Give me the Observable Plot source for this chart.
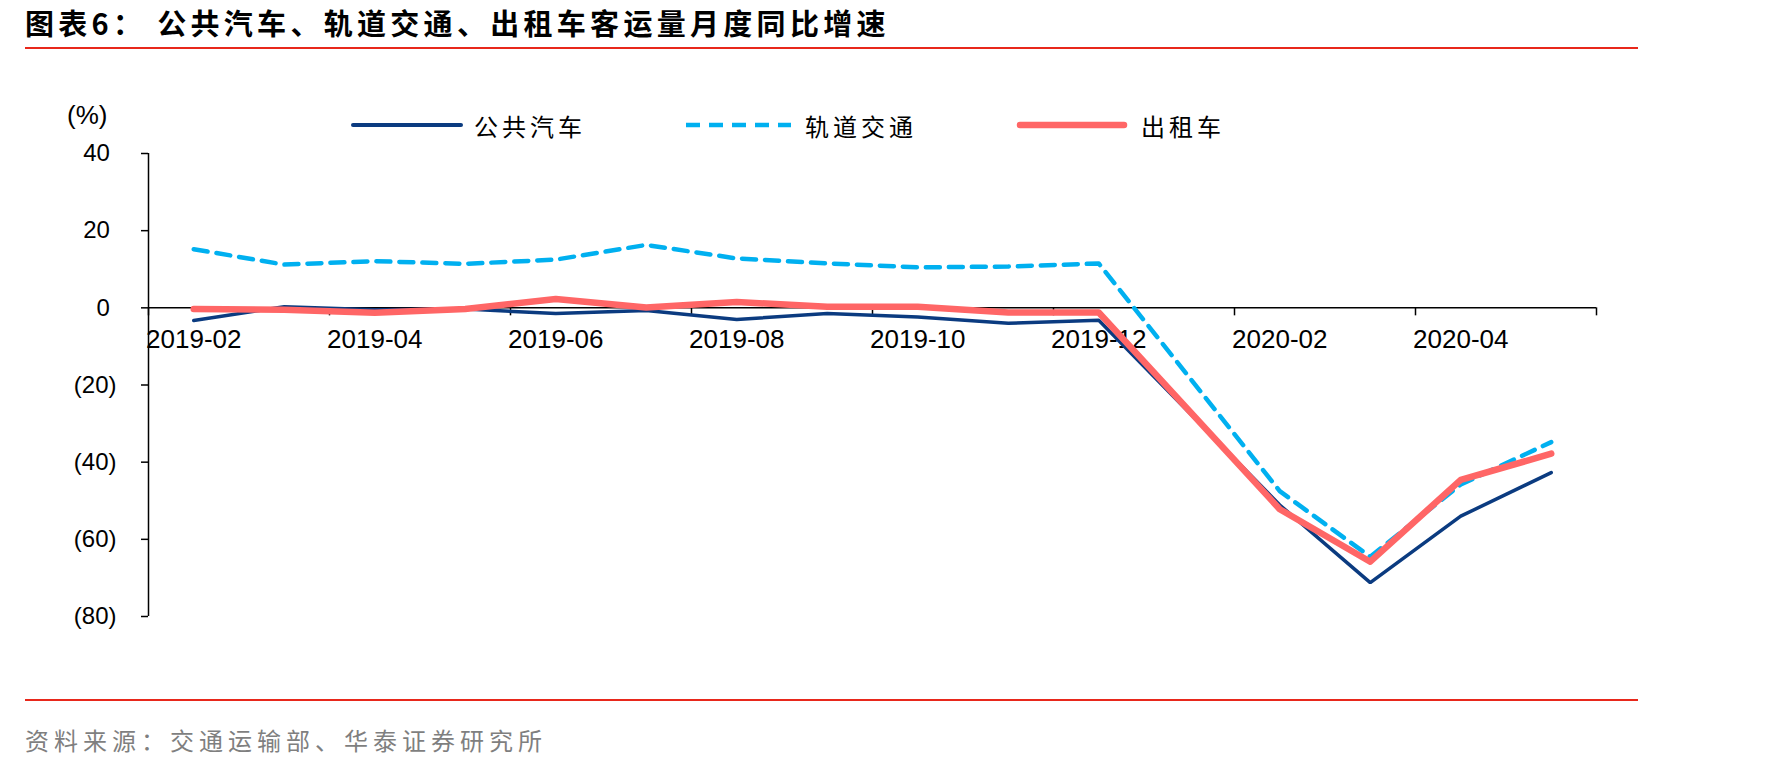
<!DOCTYPE html>
<html>
<head>
<meta charset="utf-8">
<script src="https://cdn.jsdelivr.net/npm/d3@7"></script>
<script src="https://cdn.jsdelivr.net/npm/@observablehq/plot@0.6"></script>
<style>
  html, body { margin: 0; padding: 0; background: #fff; }
  #page { position: relative; width: 1771px; height: 768px; overflow: hidden; background: #fff; font-family: "Noto Sans CJK SC", sans-serif; }
  .abs { position: absolute; white-space: pre; }
  #title { left: 25px; top: 6px; font-size: 29px; line-height: 32px; font-weight: 700; letter-spacing: 4.3px; color: #000; }
  .rule { position: absolute; left: 25px; width: 1613px; height: 2px; background: #E8281B; }
  #source { left: 25px; top: 724px; font-size: 24px; line-height: 32px; letter-spacing: 5px; color: #7F7F7F; }
  #unit { left: 67px; top: 100px; font-family: "Liberation Sans", Arial, sans-serif; font-size: 26px; line-height: 30px; color: #000; }
  .lg-text { font-size: 24px; line-height: 30px; letter-spacing: 4px; color: #000; top: 111px; }
  .lg-sw { position: absolute; top: 115px; }
  #chart { position: absolute; left: 0; top: 132px; }
</style>
</head>
<body>
<div id="page">
  <div id="title" class="abs"></div>
  <div class="rule" style="top:47px"></div>
  <div id="unit" class="abs">(%)</div>
  <div id="legend"></div>
  <div id="chart"></div>
  <div class="rule" style="top:699px"></div>
  <div id="source" class="abs"></div>
</div>
<script>
// ---- data ----
const titleText = "图表6： 公共汽车、轨道交通、出租车客运量月度同比增速";
const sourceText = "资料来源：交通运输部、华泰证券研究所";
const months = ["2019-02","2019-03","2019-04","2019-05","2019-06","2019-07","2019-08","2019-09",
                "2019-10","2019-11","2019-12","2020-01","2020-02","2020-03","2020-04","2020-05"];
const seriesNames = ["公共汽车", "轨道交通", "出租车"];
const busValues  = [-3.3, 0.3, -0.5, -0.3, -1.5, -0.7, -3.0, -1.5, -2.4, -4.0, -3.2, null, -51.1, -71.2, -54.0, -42.7];
const railValues = [15.2, 11.2, 12.1, 11.4, 12.5, 16.3, 12.8, 11.5, 10.5, 10.7, 11.5, null, -47.5, -64.5, -45.8, -34.8];
const taxiValues = [-0.3, -0.5, -1.3, -0.3, 2.3, 0.1, 1.5, 0.3, 0.3, -1.2, -1.2, null, -52.2, -65.8, -44.6, -37.8];
const yTicks = [40, 20, 0, -20, -40, -60, -80];
const xLabelIndex = [0, 2, 4, 6, 8, 10, 12, 14];
const xTickBounds = [-0.5, 1.5, 3.5, 5.5, 7.5, 9.5, 11.5, 13.5, 15.5];
const colors = ["#0B3B80", "#00B0F0", "#FF6666"];

// ---- text ----
document.getElementById("title").textContent = titleText;
document.getElementById("source").textContent = sourceText;

// ---- legend ----
const legendLayout = [
  {x: 353, w: 108, tx: 474},
  {x: 686, w: 105, tx: 805},
  {x: 1020, w: 104, tx: 1141}
];
const lineStyles = [
  {width: 4, dash: null, cap: "round"},
  {width: 4.5, dash: "14,9", cap: "butt"},
  {width: 6.5, dash: null, cap: "round"}
];
const legend = document.getElementById("legend");
seriesNames.forEach((name, k) => {
  const L = legendLayout[k], S = lineStyles[k];
  const sw = document.createElementNS("http://www.w3.org/2000/svg", "svg");
  sw.setAttribute("class", "lg-sw");
  sw.setAttribute("width", L.w + 8);
  sw.setAttribute("height", 20);
  sw.style.left = (L.x - 4) + "px";
  const ln = document.createElementNS("http://www.w3.org/2000/svg", "line");
  ln.setAttribute("x1", 4); ln.setAttribute("x2", L.w + 4);
  ln.setAttribute("y1", 10); ln.setAttribute("y2", 10);
  ln.setAttribute("stroke", colors[k]);
  ln.setAttribute("stroke-width", S.width);
  ln.setAttribute("stroke-linecap", S.cap);
  if (S.dash) ln.setAttribute("stroke-dasharray", S.dash);
  sw.appendChild(ln);
  legend.appendChild(sw);
  const t = document.createElement("div");
  t.className = "abs lg-text";
  t.style.left = L.tx + "px";
  t.textContent = name;
  legend.appendChild(t);
});

// ---- chart ----
const rows = (vals) => months.map((m, i) => ({i, m, v: vals[i]})).filter(d => d.v != null);
const fmtY = d => d < 0 ? `(${-d})` : `${d}\u00a0`;

const chart = Plot.plot({
  width: 1771,
  height: 500,
  marginLeft: 148,
  marginRight: 175,
  marginTop: 21,
  marginBottom: 16,
  x: {type: "linear", domain: [-0.5, 15.5], axis: null},
  y: {domain: [-80, 40], axis: null},
  style: {fontFamily: "'Liberation Sans', Arial, sans-serif", fontSize: "24px", color: "#000", background: "transparent", overflow: "visible"},
  marks: [
    Plot.ruleY([0], {stroke: "#000", strokeWidth: 1.5}),
    Plot.ruleX([-0.5], {stroke: "#000", strokeWidth: 1.5}),
    Plot.axisY({ticks: yTicks, tickSize: 7, tickPadding: 25, tickFormat: fmtY, strokeWidth: 1.5, label: null}),
    Plot.ruleX(xTickBounds, {x: d => d, y1: () => 0, y2: () => 0, insetBottom: -8, stroke: "#000", strokeWidth: 1.5}),
    Plot.text(xLabelIndex, {x: d => d, y: () => 0, text: i => months[i], dy: 32, fontSize: 26, fill: "#000"}),
    Plot.line(rows(busValues), {x: "i", y: "v", stroke: colors[0], strokeWidth: 3.5, strokeLinejoin: "miter"}),
    Plot.line(rows(railValues), {x: "i", y: "v", stroke: colors[1], strokeWidth: 4.5, strokeDasharray: "14,9"}),
    Plot.line(rows(taxiValues), {x: "i", y: "v", stroke: colors[2], strokeWidth: 6.5, strokeLinecap: "round", strokeLinejoin: "round"})
  ]
});
document.getElementById("chart").appendChild(chart);
</script>
</body>
</html>
